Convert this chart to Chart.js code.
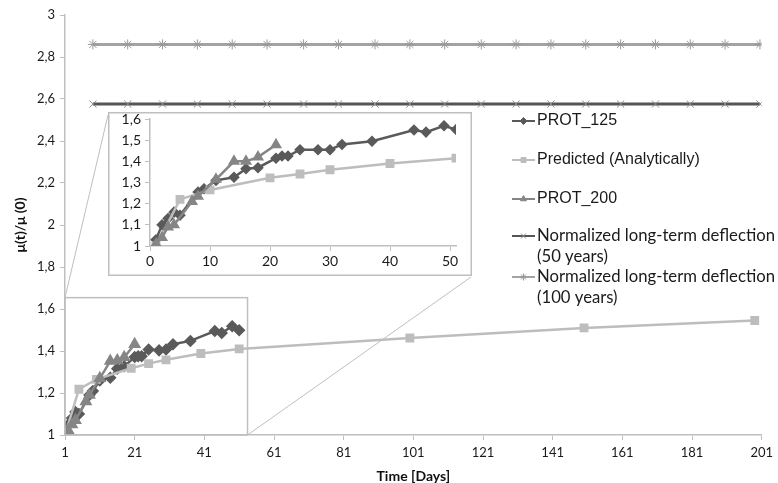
<!DOCTYPE html>
<html>
<head>
<meta charset="utf-8">
<script src="https://cdn.jsdelivr.net/npm/chart.js@4.4.0/dist/chart.umd.min.js"></script>
<style>
  html, body { margin: 0; padding: 0; background: #fff; }
  #wrap { position: relative; width: 778px; height: 483px; }
  #main { position: absolute; left: 0; top: 0; }
  #inset { position: absolute; left: 108px; top: 112px; }
</style>
</head>
<body>
<div id="wrap">
  <canvas id="main" width="778" height="483"></canvas>
  <canvas id="inset" width="364" height="164"></canvas>
</div>
<script>
// ---- data ----
const daysProt125 = [1, 2, 3, 4, 5, 8, 9, 11, 14, 16, 18, 21, 22, 23, 25, 28, 30, 32, 37, 44, 46, 49, 51];
const prot125Main = [1.02, 1.05, 1.08, 1.11, 1.10, 1.19, 1.21, 1.26, 1.273, 1.316, 1.327, 1.371, 1.375, 1.375, 1.407, 1.403, 1.407, 1.432, 1.448, 1.495, 1.486, 1.518, 1.499];
const prot125Inset = [1.03, 1.10, 1.13, 1.16, 1.145, 1.255, 1.27, 1.31, 1.325, 1.365, 1.37, 1.415, 1.425, 1.425, 1.455, 1.455, 1.455, 1.48, 1.495, 1.548, 1.538, 1.568, 1.55];

const daysPredMain = [1, 5, 10, 20, 25, 30, 40, 51, 100, 150, 199];
const predMain = [1.0, 1.218, 1.265, 1.318, 1.34, 1.358, 1.388, 1.41, 1.462, 1.51, 1.545];
const daysPredInset = [1, 5, 10, 20, 25, 30, 40, 51];
const predInset = [1.0, 1.22, 1.265, 1.322, 1.34, 1.36, 1.39, 1.415];

const daysProt200 = [1, 2, 3, 4, 7, 8, 11, 14, 16, 18, 21];
const prot200Main = [1.0, 1.02, 1.05, 1.07, 1.16, 1.19, 1.27, 1.352, 1.355, 1.37, 1.432];
const prot200Inset = [1.01, 1.04, 1.09, 1.10, 1.21, 1.235, 1.315, 1.40, 1.40, 1.42, 1.478];

const daysLongTerm = [9, 19, 29, 39, 49, 59, 69.5, 79.5, 90, 100, 110, 120.5, 130.5, 140.5, 150.5, 160.5, 170.5, 180.5, 190.5, 200.5];
const longTerm50 = [2.576, 2.576, 2.576, 2.576, 2.576, 2.576, 2.576, 2.576, 2.576, 2.576, 2.576, 2.576, 2.576, 2.576, 2.576, 2.576, 2.576, 2.576, 2.576, 2.576];
const longTerm100 = [2.86, 2.86, 2.86, 2.86, 2.86, 2.86, 2.86, 2.86, 2.86, 2.86, 2.86, 2.86, 2.86, 2.86, 2.86, 2.86, 2.86, 2.86, 2.86, 2.86];

const seriesNames = ['PROT_125', 'Predicted (Analytically)', 'PROT_200',
  'Normalized long-term deflection (50 years)', 'Normalized long-term deflection (100 years)'];

const xTickStep = 20;   // 1, 21, ... 201
const yTickStep = 0.2;
const insetXStep = 10;
const insetYStep = 0.1;

// ---- helpers ----
function pts(xs, ys) {
  return xs.map((x, i) => ({ x: x, y: ys[i] }));
}

function commaLabel(v) {
  return String(Number(v.toFixed(1))).replace('.', ',');
}

const axisGrey = '#bfbfbf';
const tickFont = { family: 'Lato', size: 13 };

// zoom box in main chart (data units) and where the inset sits (page px)
const zoomBox = { x0: 1, x1: 53.4, y0: 1, y1: 1.654 };
const insetBox = { left: 108, top: 112, right: 471, bottom: 275 };

const zoomPlugin = {
  id: 'zoomBox',
  afterDatasetsDraw(chart) {
    const ctx = chart.ctx;
    const xs = chart.scales.x, ys = chart.scales.y;
    const l = xs.getPixelForValue(zoomBox.x0), r = xs.getPixelForValue(zoomBox.x1);
    const t = ys.getPixelForValue(zoomBox.y1), b = ys.getPixelForValue(zoomBox.y0);
    ctx.save();
    ctx.strokeStyle = axisGrey;
    ctx.lineWidth = 1.5;
    ctx.strokeRect(l, t, r - l, b - t);
    ctx.lineWidth = 1;
    ctx.beginPath();
    ctx.moveTo(l, t);
    ctx.lineTo(insetBox.left, insetBox.top + 3);
    ctx.moveTo(r, b);
    ctx.lineTo(insetBox.right, insetBox.bottom + 2);
    ctx.stroke();
    ctx.restore();
  }
};

function drawMarker(ctx, style, x, y, r) {
  if (Chart.helpers && Chart.helpers.drawPoint) {
    Chart.helpers.drawPoint(ctx, { pointStyle: style, radius: r, rotation: 0, borderWidth: 1 }, x, y);
  }
}

const legendPlugin = {
  id: 'sideLegend',
  afterDraw(chart) {
    const ctx = chart.ctx;
    const ds = chart.data.datasets;
    const arial = '16px "Liberation Sans", Arial';
    const calib = '16.7px Lato';
    const rows = [
      { i: 0, y: 121, lines: ['PROT_125'], font: arial },
      { i: 1, y: 160, lines: ['Predicted (Analytically)'], font: arial },
      { i: 2, y: 199, lines: ['PROT_200'], font: arial },
      { i: 3, y: 236, lines: ['Normalized long-term deflection', '(50 years)'], font: calib },
      { i: 4, y: 277, lines: ['Normalized long-term deflection', '(100 years)'], font: calib }
    ];
    ctx.save();
    rows.forEach(row => {
      const d = ds[row.i];
      ctx.strokeStyle = d.borderColor;
      ctx.lineWidth = 2;
      ctx.beginPath();
      ctx.moveTo(512, row.y);
      ctx.lineTo(535, row.y);
      ctx.stroke();
      ctx.fillStyle = d.pointBackgroundColor;
      ctx.strokeStyle = d.pointBorderColor;
      ctx.lineWidth = 1;
      drawMarker(ctx, d.pointStyle, 523.5, row.y, 3.5);
      ctx.fillStyle = '#1a1a1a';
      ctx.font = row.font;
      ctx.textBaseline = 'middle';
      ctx.textAlign = 'left';
      row.lines.forEach((txt, k) => ctx.fillText(txt, 537, row.y + k * 21));
    });
    ctx.restore();
  }
};

// ---- main chart ----
new Chart(document.getElementById('main'), {
  type: 'line',
  data: {
    datasets: [
      {
        label: seriesNames[0], data: pts(daysProt125, prot125Main), order: 3,
        borderColor: '#5a5a5a', backgroundColor: '#5a5a5a', borderWidth: 2.5,
        pointStyle: 'rectRot', pointRadius: 4.5, pointBackgroundColor: '#5a5a5a', pointBorderColor: '#5a5a5a'
      },
      {
        label: seriesNames[1], data: pts(daysPredMain, predMain), order: 2,
        borderColor: '#bdbdbd', backgroundColor: '#bdbdbd', borderWidth: 2.5,
        pointStyle: 'rect', pointRadius: 4.5, pointBackgroundColor: '#bdbdbd', pointBorderColor: '#bdbdbd'
      },
      {
        label: seriesNames[2], data: pts(daysProt200, prot200Main), order: 1,
        borderColor: '#858585', backgroundColor: '#858585', borderWidth: 2.5,
        pointStyle: 'triangle', pointRadius: 5, pointBackgroundColor: '#858585', pointBorderColor: '#858585'
      },
      {
        label: seriesNames[3], data: pts(daysLongTerm, longTerm50), order: 4,
        borderColor: '#555555', backgroundColor: '#555555', borderWidth: 3,
        pointStyle: 'crossRot', pointRadius: 5, pointBorderWidth: 1, pointBackgroundColor: '#8a8a8a', pointBorderColor: '#8a8a8a'
      },
      {
        label: seriesNames[4], data: pts(daysLongTerm, longTerm100), order: 5,
        borderColor: '#a3a3a3', backgroundColor: '#a3a3a3', borderWidth: 3,
        pointStyle: 'star', pointRadius: 5, pointBorderWidth: 1, pointBackgroundColor: '#999999', pointBorderColor: '#999999'
      }
    ]
  },
  options: {
    responsive: false,
    animation: false,
    layout: { padding: { top: 15, right: 13, left: 0, bottom: 0 } },
    elements: { line: { tension: 0 } },
    plugins: { legend: { display: false }, tooltip: { enabled: false } },
    scales: {
      x: {
        type: 'linear', min: 1, max: 201,
        afterFit: (s) => { s.height = 48; },
        ticks: { stepSize: xTickStep, color: '#1a1a1a', font: tickFont, padding: 5, maxRotation: 0 },
        grid: { drawOnChartArea: false, drawTicks: true, tickLength: 5, color: axisGrey },
        border: { color: axisGrey, width: 1.5 },
        title: { display: true, text: 'Time [Days]', color: '#111', font: { family: 'Lato', size: 14, weight: 'bold', lineHeight: 1 }, padding: 0 }
      },
      y: {
        min: 1, max: 3,
        afterFit: (s) => { s.width = 65; },
        ticks: { stepSize: yTickStep, color: '#1a1a1a', font: tickFont, padding: 5, callback: (v) => commaLabel(v) },
        grid: { drawOnChartArea: false, drawTicks: true, tickLength: 5, color: axisGrey },
        border: { color: axisGrey, width: 1.5 },
        title: { display: true, text: 'μ(t)/μ (0)', color: '#111', font: { family: 'Lato', size: 14, weight: 'bold', lineHeight: 1 }, padding: 13 }
      }
    }
  },
  plugins: [zoomPlugin, legendPlugin]
});

// ---- inset chart ----
const insetFrame = {
  id: 'insetFrame',
  beforeDraw(chart) {
    const ctx = chart.ctx;
    ctx.save();
    ctx.fillStyle = '#fff';
    ctx.fillRect(0, 0, chart.width, chart.height);
    ctx.restore();
  },
  afterDraw(chart) {
    const ctx = chart.ctx;
    ctx.save();
    ctx.strokeStyle = axisGrey;
    ctx.lineWidth = 1.5;
    ctx.strokeRect(0.75, 0.75, chart.width - 1.5, chart.height - 1.5);
    ctx.restore();
  }
};

const insetTickFont = { family: 'Lato', size: 14 };

new Chart(document.getElementById('inset'), {
  type: 'line',
  data: {
    datasets: [
      {
        label: seriesNames[0], data: pts(daysProt125, prot125Inset), order: 3,
        borderColor: '#5a5a5a', borderWidth: 2.5,
        pointStyle: 'rectRot', pointRadius: 4, pointBackgroundColor: '#5a5a5a', pointBorderColor: '#5a5a5a'
      },
      {
        label: seriesNames[1], data: pts(daysPredInset, predInset), order: 2,
        borderColor: '#bdbdbd', borderWidth: 2.5,
        pointStyle: 'rect', pointRadius: 4.5, pointBackgroundColor: '#bdbdbd', pointBorderColor: '#bdbdbd'
      },
      {
        label: seriesNames[2], data: pts(daysProt200, prot200Inset), order: 1,
        borderColor: '#858585', borderWidth: 2.5,
        pointStyle: 'triangle', pointRadius: 4.5, pointBackgroundColor: '#858585', pointBorderColor: '#858585'
      }
    ]
  },
  options: {
    responsive: false,
    animation: false,
    layout: { padding: { top: 6, right: 16, left: 0, bottom: 0 } },
    elements: { line: { tension: 0 } },
    plugins: { legend: { display: false }, tooltip: { enabled: false } },
    scales: {
      x: {
        type: 'linear', min: 0, max: 51,
        afterFit: (s) => { s.height = 30; s.paddingLeft = 0; s.paddingRight = 0; },
        ticks: { stepSize: insetXStep, includeBounds: false, color: '#1a1a1a', font: insetTickFont, padding: 2, maxRotation: 0 },
        grid: { drawOnChartArea: false, drawTicks: true, tickLength: 5, color: axisGrey },
        border: { color: axisGrey, width: 1.5 }
      },
      y: {
        min: 1, max: 1.6,
        afterFit: (s) => { s.width = 42; s.paddingTop = 0; s.paddingBottom = 0; },
        ticks: { stepSize: insetYStep, color: '#1a1a1a', font: insetTickFont, padding: 4, callback: (v) => commaLabel(v) },
        grid: { drawOnChartArea: false, drawTicks: true, tickLength: 5, color: axisGrey },
        border: { color: axisGrey, width: 1.5 }
      }
    }
  },
  plugins: [insetFrame]
});
</script>
</body>
</html>
